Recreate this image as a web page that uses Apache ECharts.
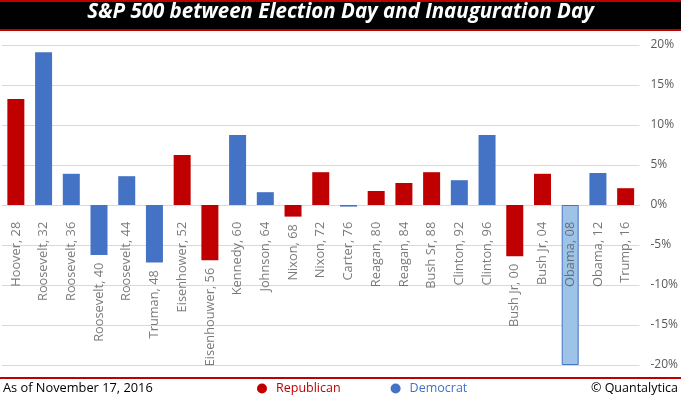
<!DOCTYPE html>
<html>
<head>
<meta charset="utf-8">
<script src="https://cdn.jsdelivr.net/npm/echarts@6/dist/echarts.min.js"></script>
<style>
  html, body { margin: 0; padding: 0; background: #fff; }
  #chart { width: 681px; height: 399px; }
</style>
</head>
<body>
<div id="chart"></div>
<script>
// ── Data ───────────────────────────────────────────────
const categories = [
  'Hoover, 28', 'Roosevelt, 32', 'Roosevelt, 36', 'Roosevelt, 40', 'Roosevelt, 44',
  'Truman, 48', 'Eisenhower, 52', 'Eisenhouwer, 56', 'Kennedy, 60', 'Johnson, 64',
  'Nixon, 68', 'Nixon, 72', 'Carter, 76', 'Reagan, 80', 'Reagan, 84', 'Bush Sr, 88',
  'Clinton, 92', 'Clinton, 96', 'Bush Jr, 00', 'Bush Jr, 04', 'Obama, 08',
  'Obama, 12', 'Trump, 16'
];
const returns = [
  13.25, 19.1, 3.9, -6.25, 3.6,
  -7.2, 6.25, -6.9, 8.75, 1.6,
  -1.45, 4.1, -0.2, 1.75, 2.75, 4.1,
  3.1, 8.75, -6.4, 3.9, -20.0,
  4.0, 2.1
];
const party = [
  'R', 'D', 'D', 'D', 'D',
  'D', 'R', 'R', 'D', 'D',
  'R', 'R', 'D', 'R', 'R', 'R',
  'D', 'D', 'R', 'R', 'D',
  'D', 'R'
];
const highlighted = ['Obama, 08'];
const yTicks = [-20, -15, -10, -5, 0, 5, 10, 15, 20];

// ── Style ──────────────────────────────────────────────
const RED   = '#C00000';
const BLUE  = '#4472C4';
const LIGHT = '#9DC3E6';
const GREY  = '#595959';
const FONT  = "'Open Sans', 'Noto Sans', sans-serif";

const chart = echarts.init(document.getElementById('chart'), null, { renderer: 'canvas' });

function partyData(p) {
  return returns.map((v, i) => {
    if (party[i] !== p) return '-';
    if (highlighted.includes(categories[i])) {
      return { value: v, itemStyle: { color: LIGHT, borderColor: BLUE, borderWidth: 1 } };
    }
    return v;
  });
}

// Label anchor: just under the axis, or under the bar for negatives
const labelAnchors = returns.map((v, i) =>
  highlighted.includes(categories[i]) ? -2.1 : Math.min(v - 0.95, -2.1));

chart.setOption({
  animation: false,
  backgroundColor: '#fff',
  grid: { left: 2, right: 38, top: 45, bottom: 34 },
  xAxis: {
    type: 'category',
    data: categories,
    axisLine: { show: true, onZero: true, lineStyle: { color: '#D9D9D9' } },
    axisTick: { show: false },
    axisLabel: { show: false }
  },
  yAxis: {
    type: 'value',
    position: 'right',
    min: yTicks[0],
    max: yTicks[yTicks.length - 1],
    interval: 5,
    splitLine: { lineStyle: { color: '#D9D9D9' } },
    axisLine: { show: false },
    axisTick: { show: false },
    axisLabel: {
      color: GREY, fontFamily: FONT, fontSize: 12, margin: 11,
      formatter: v => v + '%'
    }
  },
  legend: {
    left: 257,
    top: 382,
    padding: 0,
    icon: 'circle',
    itemWidth: 10,
    itemHeight: 10,
    itemGap: 50,
    textStyle: { fontFamily: FONT, fontSize: 12.5, padding: [0, 0, 0, 4] },
    data: [
      { name: 'Republican', textStyle: { color: RED } },
      { name: 'Democrat', textStyle: { color: BLUE } }
    ]
  },
  series: [
    {
      name: 'Republican', type: 'bar', stack: 'all', barWidth: 17,
      itemStyle: { color: RED }, data: partyData('R')
    },
    {
      name: 'Democrat', type: 'bar', stack: 'all', barWidth: 17,
      itemStyle: { color: BLUE }, data: partyData('D')
    },
    {
      name: 'labels', type: 'scatter', symbolSize: 0, silent: true,
      data: labelAnchors.map((a, i) => [i, a]),
      label: {
        show: true, position: 'inside', rotate: 90,
        align: 'right', verticalAlign: 'middle',
        color: GREY, fontFamily: FONT, fontSize: 12.8,
        formatter: p => categories[p.dataIndex]
      }
    }
  ],
  graphic: [
    { type: 'rect', shape: { x: 0, y: 0, width: 681, height: 31 }, style: { fill: RED } },
    { type: 'rect', shape: { x: 0, y: 2, width: 681, height: 27 }, style: { fill: '#000' } },
    {
      type: 'text', left: 'center', top: 2,
      style: {
        text: 'S&P 500 between Election Day and Inauguration Day',
        fill: '#fff', font: "italic bold 20.5px 'Open Sans', sans-serif"
      }
    },
    { type: 'rect', shape: { x: 0, y: 377, width: 681, height: 2 }, style: { fill: RED } },
    {
      type: 'text', left: 3, top: 382,
      style: { text: 'As of November 17, 2016', fill: '#000', font: "12.8px 'Open Sans', sans-serif" }
    },
    {
      type: 'text', right: 3, top: 382,
      style: { text: '© Quantalytica', fill: '#000', font: "12.5px 'Open Sans', sans-serif" }
    }
  ]
});
</script>
</body>
</html>
